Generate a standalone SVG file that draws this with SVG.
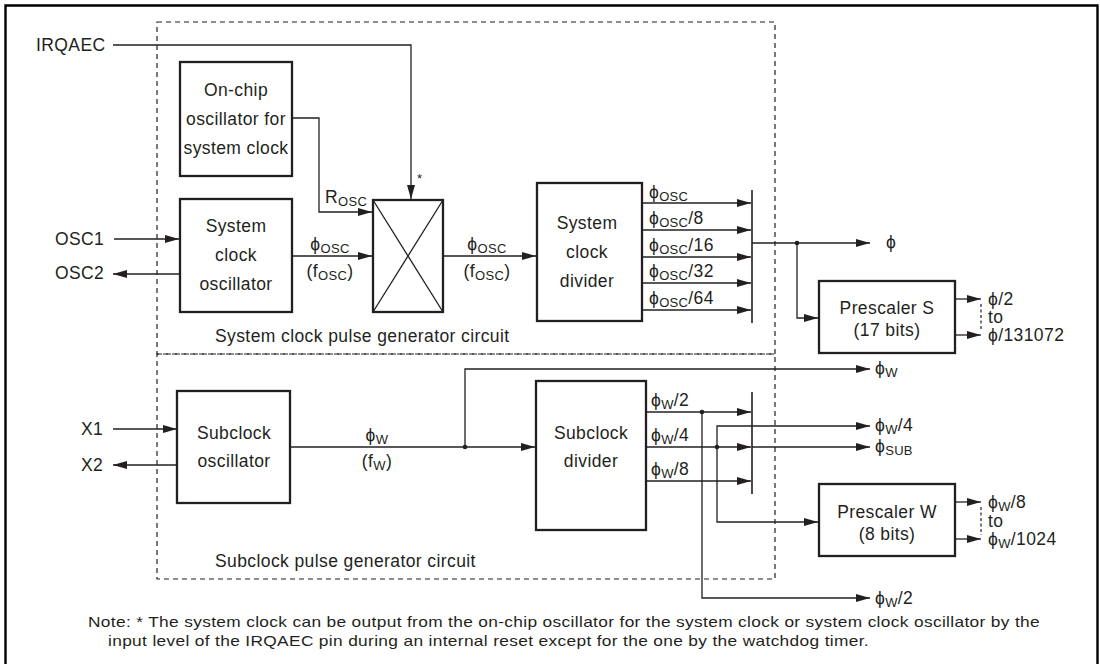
<svg xmlns="http://www.w3.org/2000/svg" width="1100" height="664" viewBox="0 0 1100 664">
<style>
.box{fill:#fff;stroke:#231f20;stroke-width:2.3}
.ln{fill:none;stroke:#231f20;stroke-width:1.3}
.bar{fill:none;stroke:#231f20;stroke-width:1.6}
.dash{fill:none;stroke:#231f20;stroke-width:1.2;stroke-dasharray:5 4}
.sdash{fill:none;stroke:#231f20;stroke-width:1.2;stroke-dasharray:3 2.5}
.frame{fill:none;stroke:#000;stroke-width:2.4}
text{font-family:"Liberation Sans",Arial,"DejaVu Sans",sans-serif;font-size:17.5px;letter-spacing:0.4px;fill:#231f20}
.c{text-anchor:middle}
.sub{font-size:13px;letter-spacing:0.3px}
.ast{font-size:13px}
.note{font-size:15px;letter-spacing:0.3px}
.dot{fill:#231f20}
</style>
<defs>
<marker id="ah" markerUnits="userSpaceOnUse" markerWidth="14" markerHeight="8" refX="14" refY="4" orient="auto"><path d="M0,0 L14,4 L0,8 z" fill="#231f20"/></marker>
</defs>
<path class="frame" d="M5.5,670 V5.5 H1097.5 V670"/>
<g id="region-system">
<rect class="dash" x="157" y="22" width="618" height="332"/>
<text x="215" y="342">System clock pulse generator circuit</text>
</g>
<g id="region-sub">
<rect class="dash" x="157" y="354" width="618" height="225"/>
<text x="215" y="567">Subclock pulse generator circuit</text>
</g>
<g id="connectors">
<path class="ln" d="M113,45 H411 V199" marker-end="url(#ah)"/>
<path class="ln" d="M292,118 H319 V212 H372" marker-end="url(#ah)"/>
<path class="ln" d="M114,239 H179" marker-end="url(#ah)"/>
<path class="ln" d="M180,274 H113" marker-end="url(#ah)"/>
<path class="ln" d="M292,256 H372" marker-end="url(#ah)"/>
<path class="ln" d="M443,256 H536" marker-end="url(#ah)"/>
<path class="ln" d="M642,203 H751" marker-end="url(#ah)"/>
<path class="ln" d="M642,230 H751" marker-end="url(#ah)"/>
<path class="ln" d="M642,257 H751" marker-end="url(#ah)"/>
<path class="ln" d="M642,283 H751" marker-end="url(#ah)"/>
<path class="ln" d="M642,310 H751" marker-end="url(#ah)"/>
<path class="bar" d="M752,190 V323"/>
<path class="ln" d="M752,243 H870" marker-end="url(#ah)"/>
<path class="ln" d="M797,243 V318 H818" marker-end="url(#ah)"/>
<circle class="dot" cx="797" cy="243" r="2.3"/>
<path class="ln" d="M955,299 H981" marker-end="url(#ah)"/>
<path class="ln" d="M955,335 H981" marker-end="url(#ah)"/>
<path class="sdash" d="M981,304 V331"/>
<path class="ln" d="M113,429 H177" marker-end="url(#ah)"/>
<path class="ln" d="M177,465 H113" marker-end="url(#ah)"/>
<path class="ln" d="M290,447 H535" marker-end="url(#ah)"/>
<path class="ln" d="M465,447 V369 H870" marker-end="url(#ah)"/>
<circle class="dot" cx="465" cy="447" r="2.3"/>
<path class="ln" d="M646,412 H751" marker-end="url(#ah)"/>
<path class="ln" d="M646,447 H751" marker-end="url(#ah)"/>
<path class="ln" d="M646,481 H751" marker-end="url(#ah)"/>
<path class="bar" d="M752,392 V494"/>
<path class="ln" d="M752,447 H870" marker-end="url(#ah)"/>
<path class="ln" d="M702,412 V598 H870" marker-end="url(#ah)"/>
<circle class="dot" cx="702" cy="412" r="2.3"/>
<path class="ln" d="M717,447 V426 H870" marker-end="url(#ah)"/>
<path class="ln" d="M717,447 V522 H818" marker-end="url(#ah)"/>
<circle class="dot" cx="717" cy="447" r="2.3"/>
<path class="ln" d="M955,502 H981" marker-end="url(#ah)"/>
<path class="ln" d="M955,539 H981" marker-end="url(#ah)"/>
<path class="sdash" d="M981,507 V535"/>
</g>
<g id="labels">
<text x="36" y="51">IRQAEC</text>
<text class="ast" x="417" y="183">*</text>
<text x="55" y="245">OSC1</text>
<text x="55" y="279">OSC2</text>
<text x="81" y="435">X1</text>
<text x="81" y="471">X2</text>
<text x="325" y="203">R<tspan class="sub" dy="3">OSC</tspan></text>
<text class="c" x="330" y="250">ϕ<tspan class="sub" dy="3">OSC</tspan></text>
<text class="c" x="330" y="277">(f<tspan class="sub" dy="3">OSC</tspan><tspan dy="-3">)</tspan></text>
<text class="c" x="487" y="250">ϕ<tspan class="sub" dy="3">OSC</tspan></text>
<text class="c" x="487" y="277">(f<tspan class="sub" dy="3">OSC</tspan><tspan dy="-3">)</tspan></text>
<text x="649" y="198">ϕ<tspan class="sub" dy="3">OSC</tspan></text>
<text x="649" y="224">ϕ<tspan class="sub" dy="3">OSC</tspan><tspan dy="-3">/8</tspan></text>
<text x="649" y="251">ϕ<tspan class="sub" dy="3">OSC</tspan><tspan dy="-3">/16</tspan></text>
<text x="649" y="277">ϕ<tspan class="sub" dy="3">OSC</tspan><tspan dy="-3">/32</tspan></text>
<text x="649" y="304">ϕ<tspan class="sub" dy="3">OSC</tspan><tspan dy="-3">/64</tspan></text>
<text x="886" y="248">ϕ</text>
<text x="988" y="305">ϕ/2</text>
<text x="988" y="323">to</text>
<text x="988" y="341">ϕ/131072</text>
<text class="c" x="377" y="441">ϕ<tspan class="sub" dy="3">W</tspan></text>
<text class="c" x="377" y="467">(f<tspan class="sub" dy="3">W</tspan><tspan dy="-3">)</tspan></text>
<text x="651" y="406">ϕ<tspan class="sub" dy="3">W</tspan><tspan dy="-3">/2</tspan></text>
<text x="651" y="441">ϕ<tspan class="sub" dy="3">W</tspan><tspan dy="-3">/4</tspan></text>
<text x="651" y="475">ϕ<tspan class="sub" dy="3">W</tspan><tspan dy="-3">/8</tspan></text>
<text x="875" y="374">ϕ<tspan class="sub" dy="3">W</tspan></text>
<text x="875" y="431">ϕ<tspan class="sub" dy="3">W</tspan><tspan dy="-3">/4</tspan></text>
<text x="875" y="452">ϕ<tspan class="sub" dy="3">SUB</tspan></text>
<text x="875" y="604">ϕ<tspan class="sub" dy="3">W</tspan><tspan dy="-3">/2</tspan></text>
<text x="988" y="508">ϕ<tspan class="sub" dy="3">W</tspan><tspan dy="-3">/8</tspan></text>
<text x="988" y="527">to</text>
<text x="988" y="545">ϕ<tspan class="sub" dy="3">W</tspan><tspan dy="-3">/1024</tspan></text>
</g>
<g id="node-onchip">
<rect class="box" x="180" y="62" width="112" height="114"/>
<text class="c" x="236" y="96">On-chip</text>
<text class="c" x="236" y="125">oscillator for</text>
<text class="c" x="236" y="154">system clock</text>
</g>
<g id="node-sysosc">
<rect class="box" x="180" y="199" width="112" height="113"/>
<text class="c" x="236" y="232">System</text>
<text class="c" x="236" y="261">clock</text>
<text class="c" x="236" y="290">oscillator</text>
</g>
<g id="node-mux">
<rect class="box" x="373" y="200" width="70" height="112"/>
<path class="ln" d="M373,200 L443,312 M443,200 L373,312"/>
</g>
<g id="node-sysdiv">
<rect class="box" x="537" y="183" width="105" height="138"/>
<text class="c" x="587" y="229">System</text>
<text class="c" x="587" y="258">clock</text>
<text class="c" x="587" y="287">divider</text>
</g>
<g id="node-prescS">
<rect class="box" x="819" y="281" width="136" height="72"/>
<text class="c" x="887" y="314">Prescaler S</text>
<text class="c" x="887" y="336">(17 bits)</text>
</g>
<g id="node-subosc">
<rect class="box" x="177" y="391" width="113" height="112"/>
<text class="c" x="234" y="439">Subclock</text>
<text class="c" x="234" y="467">oscillator</text>
</g>
<g id="node-subdiv">
<rect class="box" x="536" y="381" width="110" height="149"/>
<text class="c" x="591" y="439">Subclock</text>
<text class="c" x="591" y="467">divider</text>
</g>
<g id="node-prescW">
<rect class="box" x="819" y="484" width="136" height="72"/>
<text class="c" x="887" y="518">Prescaler W</text>
<text class="c" x="887" y="540">(8 bits)</text>
</g>
<g id="note">
<text class="note" x="88" y="627" textLength="952" lengthAdjust="spacingAndGlyphs">Note: * The system clock can be output from the on-chip oscillator for the system clock or system clock oscillator by the</text>
<text class="note" x="108" y="646" textLength="761" lengthAdjust="spacingAndGlyphs">input level of the IRQAEC pin during an internal reset except for the one by the watchdog timer.</text>
</g>
</svg>
